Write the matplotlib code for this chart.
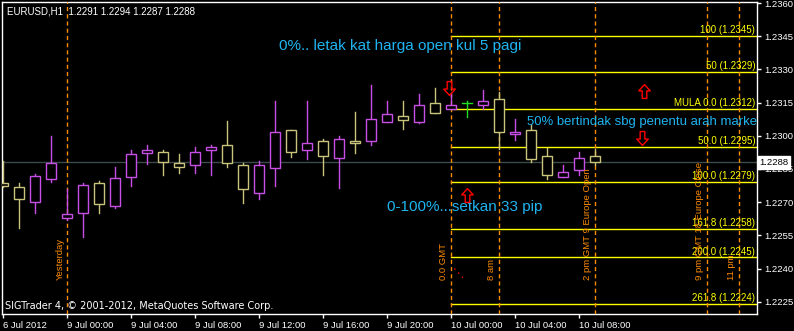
import matplotlib.pyplot as plt
from matplotlib.patches import Rectangle
from matplotlib.path import Path
from matplotlib.transforms import blended_transform_factory

# bar index: 0 = 10 Jul 00:00 (H1 bars)
bars = list(range(-28, 10))
opens = [1.22788, 1.22768, 1.22702, 1.22806, 1.22627, 1.22652, 1.22787, 1.22684,
         1.22815, 1.22924, 1.22925, 1.22876, 1.22866, 1.22934, 1.22957, 1.22866,
         1.22743, 1.22856, 1.23025, 1.22934, 1.22976, 1.22898, 1.22976, 1.22975,
         1.23064, 1.23088, 1.23064, 1.23148, 1.23120, 1.23150, 1.23138, 1.23165,
         1.23007, 1.23026, 1.22909, 1.22815, 1.22844, 1.22910]
highs = [1.22886, 1.22787, 1.22827, 1.22999, 1.22759, 1.22785, 1.22796, 1.22859,
         1.22936, 1.22958, 1.22936, 1.22918, 1.22948, 1.22957, 1.23067, 1.22876,
         1.22886, 1.23156, 1.23028, 1.23157, 1.22985, 1.22999, 1.23107, 1.23230,
         1.23157, 1.23157, 1.23189, 1.23216, 1.23192, 1.23157, 1.23207, 1.23197,
         1.23076, 1.23049, 1.22945, 1.22866, 1.22928, 1.22940]
lows = [1.22770, 1.22584, 1.22652, 1.22791, 1.22619, 1.22544, 1.22652, 1.22675,
        1.22774, 1.22872, 1.22824, 1.22833, 1.22833, 1.22824, 1.22858, 1.22695,
        1.22716, 1.22774, 1.22905, 1.22896, 1.22824, 1.22765, 1.22924, 1.22957,
        1.23064, 1.23031, 1.23056, 1.23104, 1.23120, 1.23086, 1.23122, 1.22940,
        1.22982, 1.22883, 1.22806, 1.22815, 1.22824, 1.22870]
closes = [1.22774, 1.22716, 1.22818, 1.22876, 1.22645, 1.22778, 1.22693, 1.22808,
          1.22918, 1.22934, 1.22883, 1.22857, 1.22925, 1.22948, 1.22876, 1.22758,
          1.22866, 1.23016, 1.22925, 1.22966, 1.22907, 1.22985, 1.22966, 1.23074,
          1.23098, 1.23073, 1.23139, 1.23104, 1.23139, 1.23150, 1.23156, 1.23016,
          1.23017, 1.22896, 1.22824, 1.22836, 1.22900, 1.22880]

fib_levels = [1.2345, 1.2329, 1.2312, 1.2295, 1.2279, 1.2258, 1.2245, 1.2224]
fib_labels = ["100 (1.2345)", "50 (1.2329)", "MULA 0.0 (1.2312)", "50.0 (1.2295)",
              "100.0 (1.2279)", "161.8 (1.2258)", "200.0 (1.2245)", "261.8 (1.2224)"]

vline_bars = [-24, 0, 3, 9, 16, 18]
vline_labels = ["Yesterday", "0.0 GMT", "8 am", "2 pm GMT 9 Europe Open",
                "9 pm GMT 18 Europe Close", "11 pm"]

time_ticks = [-28, -24, -20, -16, -12, -8, -4, 0, 4, 8]
time_labels = ["6 Jul 2012", "9 Jul 00:00", "9 Jul 04:00", "9 Jul 08:00", "9 Jul 12:00",
               "9 Jul 16:00", "9 Jul 20:00", "10 Jul 00:00", "10 Jul 04:00", "10 Jul 08:00"]
price_ticks = [1.2360, 1.2345, 1.2330, 1.2315, 1.2300, 1.2285, 1.2270, 1.2255, 1.2240, 1.2225]
bid = 1.2288

bull = '#c84ee8'
bear = '#c8c47c'
doji = '#22dd22'
cyan = '#1fb4f0'
orange = '#ff8c00'

plt.rcParams['font.family'] = ['Liberation Sans', 'DejaVu Sans']

# hollow arrow shapes (like the MT4 arrow objects)
up_arrow = Path([(0, 0.6), (0.5, 0.05), (0.2, 0.05), (0.2, -0.6), (-0.2, -0.6),
                 (-0.2, 0.05), (-0.5, 0.05), (0, 0.6)])
down_arrow = Path([(x, -y) for x, y in up_arrow.vertices])

fig = plt.figure(figsize=(7.94, 3.31), dpi=100, facecolor='black')
ax = fig.add_axes([2/794, 17/331, 755/794, 312/331])
ax.set_facecolor('black')
ax.set_xlim(-28.08, 19.11)
ax.set_ylim(1.221944, 1.236046)

# bid line
ax.axhline(bid, color='#3c4a4a', lw=1, zorder=1)

# fibo lines
for lev, lab in zip(fib_levels, fib_labels):
    ax.plot([0, 19.11], [lev, lev], color='#ffff00', lw=1, zorder=2)
    ax.text(19.0, lev + 0.00004, lab, color='#ffff00', fontsize=7,
            ha='right', va='bottom', zorder=6)

# vertical session lines
for b, lab in zip(vline_bars, vline_labels):
    ax.axvline(b, color=orange, lw=1, ls=(0, (3, 2.2)), zorder=3)
    ax.annotate(lab, xy=(b, 1.22348), xytext=(-2, 0), textcoords='offset points',
                rotation=90, ha='right', va='bottom', color=orange, fontsize=6.8,
                zorder=6)

# candles
for b, o, h, l, c in zip(bars, opens, highs, lows, closes):
    col = bull if c > o else (bear if c < o else doji)
    ax.plot([b, b], [l, h], color=col, lw=1, zorder=4)
    if c == o:
        ax.plot([b - 0.31, b + 0.31], [o, o], color=col, lw=1, zorder=5)
    else:
        ax.add_patch(Rectangle((b - 0.31, min(o, c)), 0.62, abs(c - o),
                               facecolor='black', edgecolor=col, lw=1, zorder=5))

# notes
ax.text(-10.77, 1.23406, "0%.. letak kat harga open kul 5 pagi", color=cyan,
        fontsize=11, ha='left', va='center', zorder=7)
ax.text(4.71, 1.2306, "50% bertindak sbg penentu arah market", color=cyan,
        fontsize=9.45, ha='left', va='center', zorder=7, clip_on=True)
ax.text(-4.04, 1.22678, "0-100%...setkan 33 pip", color=cyan,
        fontsize=11, ha='left', va='center', zorder=7)

# arrows
for x, y, shape in [(-0.11, 1.23214, down_arrow), (1.01, 1.22732, up_arrow),
                    (12.04, 1.23202, up_arrow), (11.9, 1.22988, down_arrow)]:
    ax.plot(x, y, marker=shape, markersize=10, mfc='none', mec='red', mew=1,
            zorder=8)
ax.plot([0.2, 0.9], [1.22400, 1.22345], color='red', lw=1, ls=(0, (1, 3)), zorder=8)

# header / footer
ax.text(0.006, 0.985, "EURUSD,H1  1.2291 1.2294 1.2287 1.2288", color='white',
        fontsize=7, ha='left', va='top', transform=ax.transAxes)
ax.text(0.004, 0.01, "SIGTrader 4, \u00a9 2001-2012, MetaQuotes Software Corp.", color='white',
        fontsize=7, ha='left', va='bottom', transform=ax.transAxes, family='DejaVu Sans')

# axes
for s in ax.spines.values():
    s.set_color('white')
    s.set_linewidth(1)
ax.yaxis.tick_right()
ax.set_yticks(price_ticks)
ax.set_yticklabels(["%.4f" % p for p in price_ticks])
ax.set_xticks(time_ticks)
ax.set_xticklabels(time_labels, ha='left')
ax.tick_params(colors='white', labelsize=6.8, length=3, width=1, pad=2)

tr = blended_transform_factory(ax.transAxes, ax.transData)
ax.text(1.003, bid, "1.2288", transform=tr, color='black', fontsize=6.8, ha='left',
        va='center', bbox=dict(facecolor='white', edgecolor='white', pad=1.2),
        zorder=10, clip_on=False)

fig.savefig('out.png', dpi=100, facecolor='black')
